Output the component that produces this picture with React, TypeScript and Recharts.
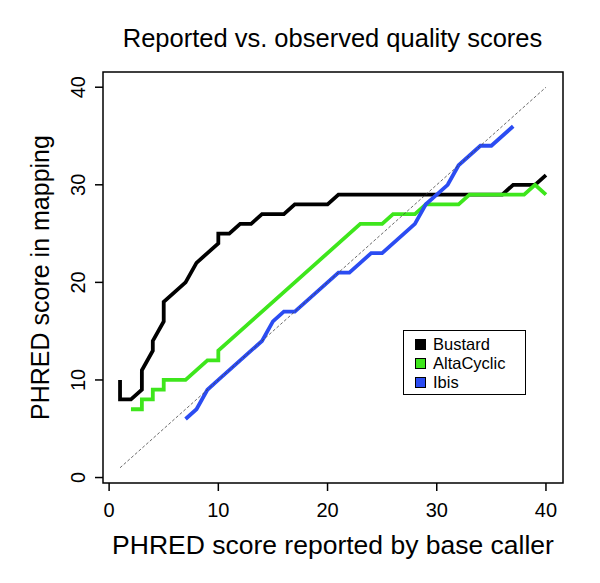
import { LineChart, Line, XAxis, YAxis, ReferenceArea, Legend, Label } from "recharts";

// Bustard (Illumina default caller)
const bustardX = [1, 1, 2, 3, 3, 4, 4, 5, 5, 6, 7, 8, 9, 10, 10, 11, 12, 13, 14, 15, 16, 17, 18, 19, 20, 21, 22, 23, 24, 25, 26, 27, 28, 29, 30, 31, 32, 33, 34, 35, 36, 37, 38, 39, 40];
const bustardY = [10, 8, 8, 9, 11, 13, 14, 16, 18, 19, 20, 22, 23, 24, 25, 25, 26, 26, 27, 27, 27, 28, 28, 28, 28, 29, 29, 29, 29, 29, 29, 29, 29, 29, 29, 29, 29, 29, 29, 29, 29, 30, 30, 30, 31];

const altaX = [2, 3, 3, 4, 4, 5, 5, 6, 7, 8, 9, 10, 10, 11, 12, 13, 14, 15, 16, 17, 18, 19, 20, 21, 22, 23, 24, 25, 26, 27, 28, 29, 30, 31, 32, 33, 34, 35, 36, 37, 38, 39, 40];
const altaY = [7, 7, 8, 8, 9, 9, 10, 10, 10, 11, 12, 12, 13, 14, 15, 16, 17, 18, 19, 20, 21, 22, 23, 24, 25, 26, 26, 26, 27, 27, 27, 28, 28, 28, 28, 29, 29, 29, 29, 29, 29, 30, 29];

const ibisX = [7, 8, 9, 10, 11, 12, 13, 14, 15, 16, 17, 18, 19, 20, 21, 22, 23, 24, 25, 26, 27, 28, 29, 30, 31, 32, 33, 34, 35, 36, 37];
const ibisY = [6, 7, 9, 10, 11, 12, 13, 14, 16, 17, 17, 18, 19, 20, 21, 21, 22, 23, 23, 24, 25, 26, 28, 29, 30, 32, 33, 34, 34, 35, 36];

// y = x reference
const diagX = [1, 40];
const diagY = [1, 40];

const ticks = [0, 10, 20, 30, 40];
const domain: [number, number] = [-0.56, 41.56];

const series = [
  { name: "Bustard", color: "#000000" },
  { name: "AltaCyclic", color: "#3ee61c" },
  { name: "Ibis", color: "#2b4cf2" },
];

const zip = (xs: number[], ys: number[]) => xs.map((x, i) => ({ x, y: ys[i] }));

const FONT = '"Liberation Sans", Arial, Helvetica, sans-serif';

function YTick({ x, y, payload }: any) {
  return (
    <text
      x={x}
      y={y}
      transform={`rotate(-90, ${x}, ${y})`}
      textAnchor="middle"
      fontSize={20}
      fill="#000"
    >
      {payload.value}
    </text>
  );
}

function LegendBox() {
  return (
    <div
      style={{
        border: "1.5px solid #000",
        background: "#fff",
        boxSizing: "border-box",
        width: 123,
        height: 65,
        padding: "4px 6px 0 11px",
        fontSize: 16.5,
        lineHeight: "19px",
        fontFamily: FONT,
      }}
    >
      {series.map((s) => (
        <div key={s.name} style={{ display: "flex", alignItems: "center", whiteSpace: "nowrap", height: 19 }}>
          <span
            style={{
              display: "inline-block",
              width: 9,
              height: 9,
              border: "1px solid #000",
              background: s.color,
              marginRight: 7,
            }}
          />
          {s.name}
        </div>
      ))}
    </div>
  );
}

export default function App() {
  return (
    <div style={{ position: "absolute", left: 0, top: 0, width: 600, height: 583, background: "#fff", fontFamily: FONT }}>
      <div
        style={{
          position: "absolute",
          left: 102,
          width: 461,
          top: 23,
          lineHeight: "30px",
          fontSize: 25.5,
          textAlign: "center",
          color: "#000",
        }}
      >
        Reported vs. observed quality scores
      </div>
      <LineChart width={600} height={583} margin={{ top: 72, right: 37, bottom: 20, left: 35 }}>
        <XAxis
          type="number"
          dataKey="x"
          domain={domain}
          ticks={ticks}
          allowDataOverflow
          axisLine={false}
          tickSize={8}
          tickMargin={12}
          tickLine={{ stroke: "#000", strokeWidth: 1.5 }}
          tick={{ fill: "#000", fontSize: 20 }}
          height={80}
        >
          <Label
            value="PHRED score reported by base caller"
            position="insideBottom"
            offset={9}
            style={{ fontSize: 26.5, fill: "#000" }}
          />
        </XAxis>
        <YAxis
          type="number"
          dataKey="y"
          domain={domain}
          ticks={ticks}
          allowDataOverflow
          axisLine={false}
          tickSize={8}
          tickMargin={10}
          tickLine={{ stroke: "#000", strokeWidth: 1.5 }}
          tick={<YTick />}
          width={68}
        >
          <Label
            value="PHRED score in mapping"
            angle={-90}
            position="insideLeft"
            offset={5}
            style={{ fontSize: 25, fill: "#000", textAnchor: "middle" }}
          />
        </YAxis>
        <ReferenceArea
          x1={domain[0]}
          x2={domain[1]}
          y1={domain[0]}
          y2={domain[1]}
          fill="none"
          stroke="#000"
          strokeWidth={1.5}
          ifOverflow="visible"
        />
        <Line data={zip(bustardX, bustardY)} dataKey="y" name="Bustard" stroke={series[0].color} strokeWidth={3.8} dot={false} isAnimationActive={false} />
        <Line data={zip(altaX, altaY)} dataKey="y" name="AltaCyclic" stroke={series[1].color} strokeWidth={3.8} dot={false} isAnimationActive={false} />
        <Line data={zip(ibisX, ibisY)} dataKey="y" name="Ibis" stroke={series[2].color} strokeWidth={3.8} dot={false} isAnimationActive={false} />
        <Line data={zip(diagX, diagY)} dataKey="y" stroke="#444" strokeWidth={0.8} strokeDasharray="3 2" dot={false} isAnimationActive={false} legendType="none" />
        <Legend
          layout="vertical"
          align="center"
          verticalAlign="middle"
          content={<LegendBox />}
          wrapperStyle={{ left: 403, top: 330, width: "auto", height: "auto" }}
        />
      </LineChart>
    </div>
  );
}
